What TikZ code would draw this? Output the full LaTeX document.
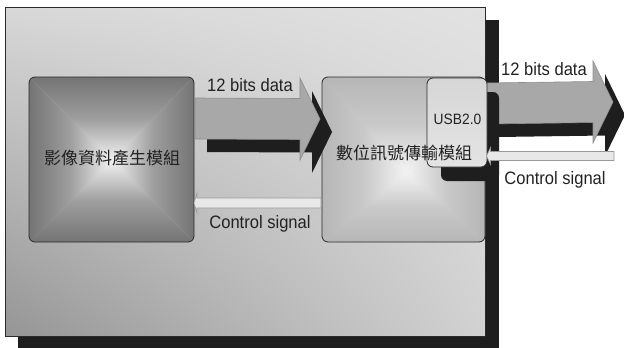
\documentclass[tikz,border=0pt]{standalone}
\usepackage{fontspec}
\setmainfont[FakeStretch=0.92]{Liberation Sans}
\newfontfamily\cjk{Noto Sans CJK TC}
\usetikzlibrary{calc,shadings}
\definecolor{shadowc}{HTML}{1E1E1E}
\definecolor{textc}{HTML}{222222}
\definecolor{linec}{HTML}{2A2A2A}
\definecolor{arrowfill}{HTML}{A8A8A8}
\definecolor{arrowline}{HTML}{8E8E8E}
\definecolor{ctrlfill}{HTML}{E8E8E8}
\definecolor{ctrlline}{HTML}{9A9A9A}
\definecolor{imgdark}{HTML}{747474}
\definecolor{imgmid}{HTML}{9E9E9E}
\definecolor{imglight}{HTML}{F2F2F2}
\definecolor{dspdark}{HTML}{B6B6B6}
\definecolor{dspmid}{HTML}{C9C9C9}
\definecolor{dsplight}{HTML}{F3F3F3}
\definecolor{panelul}{HTML}{D8D8D8}
\definecolor{panelur}{HTML}{E2E2E2}
\definecolor{panelll}{HTML}{959595}
\definecolor{panellr}{HTML}{D2D2D2}
\definecolor{usbtop}{HTML}{D6D6D6}
\definecolor{usbbot}{HTML}{E4E4E4}
\newcommand\xshade[5]{%
  \begin{scope}
    \clip[rounded corners=6pt] (#1.north west) rectangle (#1.south east);
    \shade[top color=#3, bottom color=#4, middle color=#5] (#1.north west) -- (#1.north east) -- (#2) -- cycle;
    \shade[bottom color=#3, top color=#4, middle color=#5] (#1.south west) -- (#1.south east) -- (#2) -- cycle;
    \shade[left color=#3, right color=#4, middle color=#5] (#1.north west) -- (#1.south west) -- (#2) -- cycle;
    \shade[right color=#3, left color=#4, middle color=#5] (#1.north east) -- (#1.south east) -- (#2) -- cycle;
  \end{scope}}
\newcommand\dataarrow[3]{%
  \path[#1] ($(#2)+(0,-20.5)$) -- ($(#3)+(-20,-20.5)$) -- ($(#3)+(-20,-41)$) -- (#3)
    -- ($(#3)+(-20,41)$) -- ($(#3)+(-20,20.5)$) -- ($(#2)+(0,20.5)$) -- cycle;}
\newcommand\ctrlarrow[5]{%
  \draw[ctrlarrowstyle] (#1) -- ($(#1)+(#5,-#4)$) -- ($(#1)+(#5,-#3)$) -- ($(#2)+(0,-#3)$)
    -- ($(#2)+(0,#3)$) -- ($(#1)+(#5,#3)$) -- ($(#1)+(#5,#4)$) -- cycle;}
\tikzset{
  boxnode/.style={inner sep=0pt, outer sep=0pt},
  boxline/.style={draw=linec, line width=0.8pt, rounded corners=6pt},
  lbl/.style={text=textc, font=\fontsize{18}{18}\selectfont, inner sep=0pt, anchor=base},
  cjklbl/.style={text=textc, font=\cjk\fontsize{17}{17}\selectfont, inner sep=0pt},
  ctrlarrowstyle/.style={fill=ctrlfill, draw=ctrlline, line width=0.6pt},
  grayarrow/.style={fill=arrowfill, draw=arrowline, line width=0.6pt},
  shadowarrow/.style={fill=shadowc, transform canvas={shift={(12,13)}}}
}
\begin{document}
\begin{tikzpicture}[x=1pt,y=-1pt]
\useasboundingbox (0,0) rectangle (624,348);
% panel shadow and panel
\node[boxnode, fill=shadowc, minimum width=481pt, minimum height=328pt] (panelshadow) at (258.5,184) {};
\node[boxnode, minimum width=480.5pt, minimum height=329pt, draw=linec, line width=0.8pt,
      upper left=panelul, upper right=panelur, lower left=panelll, lower right=panellr] (panel) at (245.25,171.5) {};
% left module
\node[boxnode, minimum width=165pt, minimum height=165pt] (img) at (111.5,159.5) {};
\coordinate (imgc) at (111.5,160);
\xshade{img}{imgc}{imgdark}{imglight}{imgmid}
\path[boxline] (img.north west) rectangle (img.south east);
% middle module
\node[boxnode, minimum width=163pt, minimum height=165pt] (dsp) at (403.5,159.5) {};
\coordinate (dspc) at (406,172);
\xshade{dsp}{dspc}{dspdark}{dsplight}{dspmid}
\path[boxline] (dsp.north west) rectangle (dsp.south east);
% left data arrow
\coordinate (d1tail) at (195,118.5);
\coordinate (d1tip) at (320,119);
\dataarrow{shadowarrow}{d1tail}{d1tip}
\dataarrow{grayarrow}{d1tail}{d1tip}
% left control arrow
\coordinate (c1tip) at (194,203);
\coordinate (c1tail) at (321,203);
\ctrlarrow{c1tip}{c1tail}{5}{10}{3}
% right data arrow
\coordinate (d2tail) at (486,103.5);
\coordinate (d2tip) at (613,102);
\dataarrow{shadowarrow}{d2tail}{d2tip}
\dataarrow{grayarrow}{d2tail}{d2tip}
% USB shadow and box
\fill[shadowc, rounded corners=6pt] (441,92) rectangle (499,181);
\node[boxnode, minimum width=60pt, minimum height=89pt, draw=linec, line width=0.8pt, rounded corners=6pt,
      top color=usbtop, bottom color=usbbot] (usb) at (457,122.5) {};
% right control arrow
\coordinate (c2tip) at (486.5,156);
\coordinate (c2tail) at (614,156);
\ctrlarrow{c2tip}{c2tail}{4.5}{8.5}{4}
% texts
\node[cjklbl] (imgtext) at (112,158.5) {影像資料產生模組};
\node[cjklbl] (dsptext) at (404,153) {數位訊號傳輸模組};
\node[lbl, font=\fontsize{15}{15}\selectfont] (usbtext) at (457.5,124) {USB2.0};
\node[lbl] (data1) at (250,91) {12 bits data};
\node[lbl] (data2) at (544,75) {12 bits data};
\node[lbl] (ctrl1) at (260,228) {Control signal};
\node[lbl] (ctrl2) at (555,184) {Control signal};
\end{tikzpicture}
\end{document}
